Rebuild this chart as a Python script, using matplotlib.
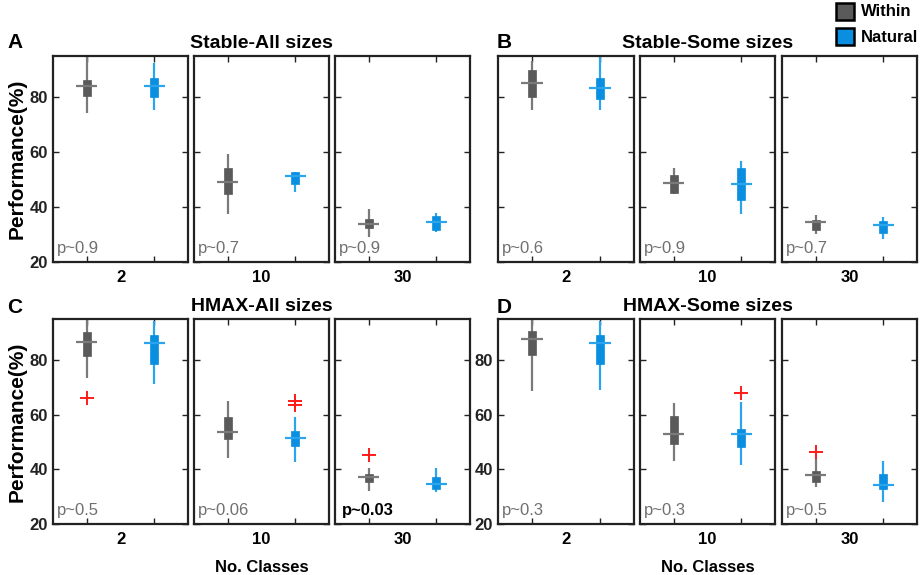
import matplotlib
matplotlib.use('Agg')
import matplotlib.pyplot as plt
from matplotlib.patches import Rectangle

plt.rcParams['font.family'] = ['Liberation Sans', 'DejaVu Sans']

# classes shown in each panel
classes = [2, 10, 30]

# box stats per class: [whisker low, q1, median, q3, whisker high]
stable_all_within = [[74.2, 80.4, 84.0, 86.4, 96.0], [37.4, 44.6, 49.1, 54.2, 59.5], [29.1, 32.2, 33.9, 35.7, 39.3]]
stable_all_natural = [[75.2, 80.0, 84.0, 87.0, 92.3], [45.5, 48.3, 51.4, 52.6, 52.8], [31.1, 31.7, 34.4, 36.8, 37.7]]
stable_some_within = [[75.4, 79.9, 85.1, 90.0, 93.0], [44.6, 45.0, 48.7, 51.8, 54.3], [30.1, 31.7, 34.7, 35.3, 37.1]]
stable_some_natural = [[75.4, 79.3, 83.4, 87.0, 96.0], [37.4, 42.6, 48.3, 54.2, 56.8], [28.5, 30.5, 33.5, 35.1, 36.5]]
hmax_all_within = [[73.4, 81.3, 86.7, 90.2, 96.0], [44.3, 51.1, 53.7, 59.1, 65.0], [32.2, 35.5, 37.1, 38.4, 40.4]]
hmax_all_natural = [[71.2, 78.5, 86.2, 89.3, 94.4], [42.7, 48.4, 51.5, 54.1, 59.1], [31.7, 32.8, 34.8, 37.3, 40.5]]
hmax_some_within = [[68.5, 81.7, 87.6, 90.6, 96.0], [43.1, 49.4, 52.8, 59.4, 64.3], [33.4, 35.5, 37.9, 39.3, 44.3]]
hmax_some_natural = [[68.9, 78.4, 86.1, 89.2, 94.1], [41.5, 48.2, 52.8, 54.9, 64.6], [28.0, 32.8, 34.2, 38.2, 43.1]]

# outliers per class
hmax_all_within_out = [[66.0], [], [45.1]]
hmax_all_natural_out = [[], [65.0, 63.4], []]
hmax_some_within_out = [[], [], [46.3]]
hmax_some_natural_out = [[], [67.9], []]
no_out = [[], [], []]

titles = ['Stable-All sizes', 'Stable-Some sizes', 'HMAX-All sizes', 'HMAX-Some sizes']
letters = ['A', 'B', 'C', 'D']
pvals = [['p~0.9', 'p~0.7', 'p~0.9'],
         ['p~0.6', 'p~0.9', 'p~0.7'],
         ['p~0.5', 'p~0.06', 'p~0.03'],
         ['p~0.3', 'p~0.3', 'p~0.5']]
significant = ['p~0.03']

within_data = [stable_all_within, stable_some_within, hmax_all_within, hmax_some_within]
natural_data = [stable_all_natural, stable_some_natural, hmax_all_natural, hmax_some_natural]
within_out = [no_out, no_out, hmax_all_within_out, hmax_some_within_out]
natural_out = [no_out, no_out, hmax_all_natural_out, hmax_some_natural_out]

GRAY_BOX, GRAY_LINE = '#5a5a5a', '#7a7a7a'
BLUE_BOX, BLUE_LINE = '#0a8ee0', '#2aa4ec'

W, H = 921, 575
fig = plt.figure(figsize=(W / 100, H / 100), dpi=100)

col_px = [[(53, 188), (194, 329), (335, 470)], [(498, 634), (640, 775), (782, 917)]]
row_px = [(56, 262), (319, 524)]
letter_px = [(7, 42), (497, 42), (7, 308), (497, 308)]


def draw_box(ax, x, st, outs, box_c, line_c):
    lo, q1, med, q3, hi = st
    ax.vlines(x, lo, hi, color=line_c, lw=1.6, zorder=2)
    ax.bar(x, q3 - q1, bottom=q1, width=0.12, color=box_c, edgecolor=box_c, lw=0.5, zorder=3)
    ax.hlines(med, x - 0.155, x + 0.155, color=line_c, lw=1.6, zorder=4)
    if outs:
        ax.plot([x] * len(outs), outs, '+', color='#ff1a1a', ms=10, mew=1.4, zorder=5)


for p in range(4):
    r, c = p // 2, p % 2
    top, bot = row_px[r]
    for k in range(3):
        x0, x1 = col_px[c][k]
        ax = fig.add_axes([x0 / W, 1 - bot / H, (x1 - x0) / W, (bot - top) / H])
        draw_box(ax, 1, within_data[p][k], within_out[p][k], GRAY_BOX, GRAY_LINE)
        draw_box(ax, 2, natural_data[p][k], natural_out[p][k], BLUE_BOX, BLUE_LINE)
        ax.set_xlim(0.5, 2.5)
        ax.set_ylim(20, 95)
        ax.set_xticks([1, 2])
        ax.set_xticklabels([])
        ax.set_yticks([20, 40, 60, 80])
        ax.tick_params(direction='in', length=4, width=1, top=True, right=True, colors='#222222')
        if k == 0 and p != 1:
            ax.set_yticklabels(['20', '40', '60', '80'], fontsize=12, fontweight='bold')
        else:
            ax.set_yticklabels([])
        for s in ax.spines.values():
            s.set_color('#222222')
            s.set_linewidth(1.6)
        ax.text(0.5, -0.04, str(classes[k]), transform=ax.transAxes, ha='center', va='top',
                fontsize=12, fontweight='bold')
        pv = pvals[p][k]
        if pv in significant:
            ax.text(0.05, 0.03, pv, transform=ax.transAxes, ha='left', va='bottom',
                    fontsize=12, fontweight='bold', color='black')
        else:
            ax.text(0.03, 0.03, pv, transform=ax.transAxes, ha='left', va='bottom',
                    fontsize=12, color='#707070')
        if k == 0 and c == 0:
            ax.set_ylabel('Performance(%)', fontsize=15, fontweight='bold', labelpad=2)
        if k == 1:
            ax.text(0.5, 1.02, titles[p], transform=ax.transAxes, ha='center', va='bottom',
                    fontsize=14, fontweight='bold')
            if r == 1:
                fig.text((x0 + x1) / 2 / W, 1 - 567 / H, 'No. Classes', ha='center',
                         va='center', fontsize=12, fontweight='bold')
    lx, ly = letter_px[p]
    fig.text(lx / W, 1 - ly / H, letters[p], ha='left', va='center',
             fontsize=15, fontweight='bold')

# legend
for i, (lab, col) in enumerate([('Within', GRAY_BOX), ('Natural', BLUE_BOX)]):
    y = 3 + 25 * i
    fig.patches.append(Rectangle((836 / W, 1 - (y + 17) / H), 18 / W, 17 / H,
                                 transform=fig.transFigure, facecolor=col,
                                 edgecolor='black', lw=1.8))
    fig.text(861 / W, 1 - (y + 9) / H, lab, ha='left', va='center', fontsize=12, fontweight='bold')

fig.savefig('out.png', dpi=100)
